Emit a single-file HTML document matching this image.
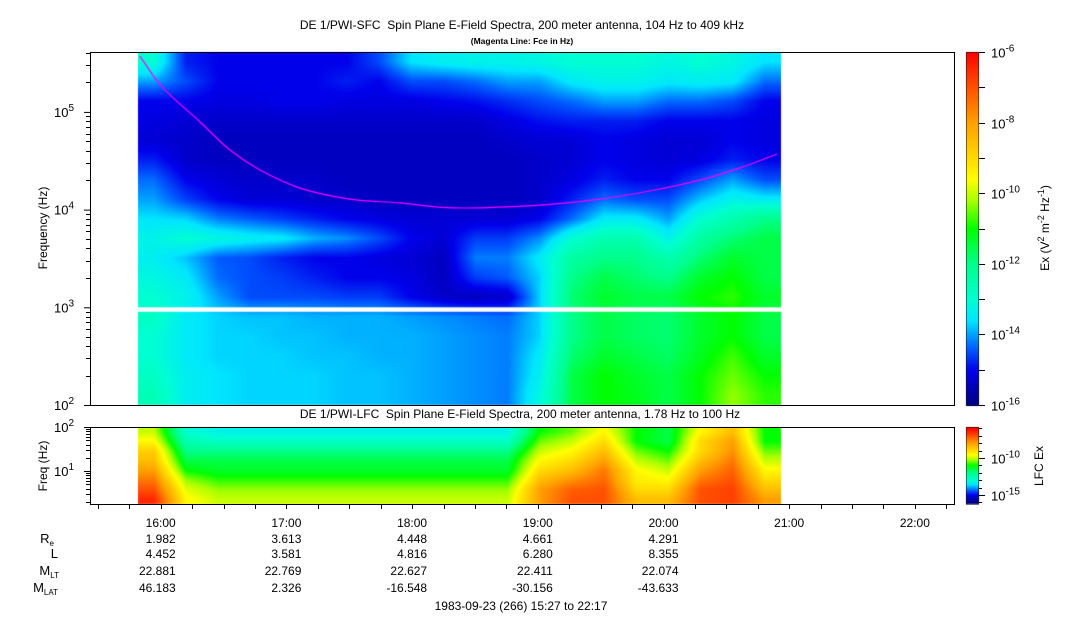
<!DOCTYPE html>
<html><head><meta charset="utf-8">
<style>
html,body{margin:0;padding:0;background:#fff;}
#wrap{position:relative;width:1083px;height:620px;overflow:hidden;font-family:"Liberation Sans",sans-serif;}
canvas{position:absolute;left:0;top:0;}
svg{position:absolute;left:0;top:0;}
</style></head>
<body>
<div id="wrap">
<canvas id="cv" width="1083" height="620"></canvas>
<svg id="sv" width="1083" height="620" font-family="Liberation Sans, sans-serif"></svg>
</div>
<script>
// ---------- DATA ----------
// SFC panel: log10 power, columns in time order, each column bottom(100Hz) -> top(400kHz), 18 rows of 0.2 decade
const sfcCol0=[-12.6,-12.8,-13,-13,-12.8,-13,-13.2,-13.4,-13.3,-13.6,-14,-14.3,-14.8,-15.2,-15.1,-15,-14,-13];
const sfcCol1=[-13.4,-13.4,-13.5,-13.5,-13.5,-13.3,-13.5,-13.8,-13,-13.7,-14.6,-15,-15.3,-15.3,-15.2,-15,-14.5,-14.8];
const sfcCol2=[-13.6,-13.6,-13.7,-13.7,-13.7,-14,-14.3,-14.4,-13.2,-14.2,-15,-15.2,-15.4,-15.4,-15.3,-15.1,-15,-15];
const sfcCol3=[-13.7,-13.7,-13.7,-13.7,-13.8,-14.5,-14.5,-14.5,-13.4,-14.4,-15.2,-15.3,-15.4,-15.4,-15.3,-15.1,-15,-15];
const sfcCol4=[-13.7,-13.7,-13.7,-13.8,-13.8,-14.5,-14.6,-14.8,-13.5,-14.6,-15.2,-15.3,-15.4,-15.4,-15.3,-15,-15,-15];
const sfcCol5=[-13.7,-13.7,-13.8,-13.8,-13.9,-14.5,-14.8,-15,-13.9,-14.8,-15.3,-15.3,-15.4,-15.4,-15.3,-15,-15,-15];
const sfcCol6=[-13.8,-13.8,-13.8,-13.9,-13.9,-14.6,-15,-15,-14.1,-15,-15.3,-15.4,-15.4,-15.4,-15.3,-15.1,-14.8,-15];
const sfcCol7=[-13.8,-13.8,-13.9,-13.9,-13.9,-14.6,-15,-15.1,-14.5,-15.1,-15.4,-15.4,-15.4,-15.4,-15.3,-15.1,-15,-14.5];
const sfcCol8=[-13.9,-13.9,-13.9,-13.9,-14,-15,-15.1,-15.2,-15,-15.2,-15.4,-15.4,-15.4,-15.4,-15.3,-15.1,-14.5,-13.6];
const sfcCol9=[-14,-14,-14,-14,-14.1,-15.3,-15.4,-15.4,-15.2,-15.2,-15.4,-15.4,-15.4,-15.4,-15.3,-15,-14.5,-13.4];
const sfcCol10=[-14.1,-14.1,-14.1,-14.1,-14.2,-15.4,-14.6,-14.2,-14.6,-15.2,-15.4,-15.4,-15.4,-15.4,-15.3,-14.9,-14.3,-13.3];
const sfcCol11=[-14.2,-14.2,-14.2,-14.2,-14.3,-15.3,-14.4,-14.2,-14.6,-15.2,-15.4,-15.4,-15.4,-15.3,-15.1,-14.7,-14,-13.3];
const sfcCol12=[-13.2,-13.4,-13.5,-13.7,-13.7,-13.7,-13.7,-13.5,-14.1,-15,-15.3,-15.3,-15.3,-15.2,-14.9,-14.5,-14,-13.2];
const sfcCol13=[-11.5,-11.5,-11.8,-12,-12,-11.8,-12,-12.3,-13,-14.3,-14.8,-15.1,-15.2,-15.2,-14.8,-14.3,-13.5,-13];
const sfcCol14=[-11,-11,-11.3,-11.5,-11.5,-11.3,-11.5,-12,-12.5,-13.5,-14.3,-14.8,-15,-15,-14.8,-14,-13.3,-13];
const sfcCol15=[-11.2,-11.3,-11.5,-11.7,-11.7,-11.5,-11.8,-12,-12.5,-13.5,-14.5,-15,-15.1,-15.1,-14.8,-14,-13.3,-13];
const sfcCol16=[-11.5,-11.5,-11.7,-11.8,-11.8,-11.5,-12,-12.5,-13.3,-14,-14.5,-15,-15.2,-15.2,-15,-14.3,-13.5,-13.2];
const sfcCol17=[-11,-11,-11.2,-11.3,-11.3,-11,-11.3,-11.8,-12.3,-13,-13.8,-14.5,-15.1,-15.2,-15,-14.3,-13.4,-13];
const sfcCol18=[-10.3,-10.5,-10.7,-11,-11,-10.8,-11,-11.3,-11.8,-12.5,-13.3,-14,-14.8,-15,-15,-14.5,-13.5,-13.2];
const sfcCol19=[-10.8,-11,-11.3,-11.5,-11.5,-11.3,-11.5,-11.5,-11.5,-12,-13.5,-14.5,-15,-15.1,-15.1,-15,-14.3,-13.6];
const sfcGrid=[sfcCol0,sfcCol1,sfcCol2,sfcCol3,sfcCol4,sfcCol5,sfcCol6,sfcCol7,sfcCol8,sfcCol9,sfcCol10,sfcCol11,sfcCol12,sfcCol13,sfcCol14,sfcCol15,sfcCol16,sfcCol17,sfcCol18,sfcCol19];
// LFC panel: columns bottom(1.78Hz)->top(100Hz), 8 rows
const lfcCol0=[-6.5,-7,-7.5,-8,-8.5,-8.8,-9.5,-10];
const lfcCol1=[-9.5,-9.8,-10.3,-11,-11.5,-12,-12.5,-13];
const lfcQuiet=[-10,-10.3,-10.8,-11.3,-11.5,-12,-12.8,-13.3];
const lfcCol12=[-8,-8,-8.5,-9,-9.5,-10,-10.5,-11];
const lfcCol13=[-7,-7.2,-7.8,-8.5,-9,-9.5,-10,-10.5];
const lfcCol14=[-7,-7,-7.3,-7.5,-8,-8.5,-9,-9.5];
const lfcCol15=[-8.5,-9,-9.3,-9.5,-10,-10.5,-11,-11];
const lfcCol16=[-8.5,-9,-9.5,-10,-10.5,-11,-11.5,-11.5];
const lfcCol17=[-7,-7,-7.5,-8,-8.5,-9,-9,-9.5];
const lfcCol18=[-6.8,-6.8,-7,-7.2,-7.5,-7.8,-8,-8.5];
const lfcCol19=[-8,-8.5,-9,-9.5,-10,-10.5,-11,-11];
const lfcGrid=[lfcCol0,lfcCol1,lfcQuiet,lfcQuiet,lfcQuiet,lfcQuiet,lfcQuiet,lfcQuiet,lfcQuiet,lfcQuiet,lfcQuiet,lfcQuiet,lfcCol12,lfcCol13,lfcCol14,lfcCol15,lfcCol16,lfcCol17,lfcCol18,lfcCol19];
// Fce magenta line
const fceTimes=[15.835,16.018,16.313,16.551,16.79,17.108,17.505,17.903,18.341,19.017,19.494,19.892,20.29,20.608,20.902];
const fceHz=[373000,176000,78900,40700,25400,16600,12800,11700,10400,11100,12800,15500,20000,26700,37100];
// Time ticks & ephemeris
const hourTicks=[16,17,18,19,20,21,22];
const tickLabels=["16:00","17:00","18:00","19:00","20:00","21:00","22:00"];
const ephRe=["1.982","3.613","4.448","4.661","4.291"];
const ephL=["4.452","3.581","4.816","6.280","8.355"];
const ephMLT=["22.881","22.769","22.627","22.411","22.074"];
const ephMLAT=["46.183","2.326","-16.548","-30.156","-43.633"];
const dataStart=15.82, dataEnd=20.935, axisStart=15.45, axisEnd=22.283;

// ---------- SCALES ----------
const xOf=h=>160.7+(h-16)*125.7;
const ySfc=lf=>405-(lf-2)*97.7;
const yLfc=lf=>427+(2-lf)*44;
const sfcLogMin=2, sfcLogMax=5.612, lfcLogMin=0.25, lfcLogMax=2;
const stops=[[-16,0,0,128],[-15,0,0,235],[-14.4,0,90,255],[-13.6,0,230,255],[-13,0,255,210],[-12,0,255,140],[-11,0,255,0],[-10.2,170,255,0],[-9.6,255,255,0],[-8,255,160,0],[-7,255,80,0],[-6,255,0,0]];
function cmap(v){
  if(v<=stops[0][0])return stops[0].slice(1);
  for(let i=1;i<stops.length;i++){ if(v<=stops[i][0]){const a=stops[i-1],b=stops[i],t=(v-a[0])/(b[0]-a[0]);return [a[1]+(b[1]-a[1])*t,a[2]+(b[2]-a[2])*t,a[3]+(b[3]-a[3])*t];}}
  return stops[stops.length-1].slice(1);
}
function sample(grid,u,w){
  const nc=grid.length,nr=grid[0].length;
  u=Math.max(0,Math.min(nc-1,u)); w=Math.max(0,Math.min(nr-1,w));
  const c0=Math.floor(u),c1=Math.min(nc-1,c0+1),r0=Math.floor(w),r1=Math.min(nr-1,r0+1);
  const fu=u-c0,fw=w-r0;
  return (grid[c0][r0]*(1-fu)+grid[c1][r0]*fu)*(1-fw)+(grid[c0][r1]*(1-fu)+grid[c1][r1]*fu)*fw;
}
const cv=document.getElementById('cv'),ctx=cv.getContext('2d');
function drawHeat(grid,yTop,yBot,lmin,lmax,lOfY){
  const x0=Math.round(xOf(dataStart)),x1=Math.round(xOf(dataEnd));
  const W=x1-x0,H=yBot-yTop,img=ctx.createImageData(W,H);
  const nc=grid.length,nr=grid[0].length;
  for(let j=0;j<H;j++){
    const lf=lOfY(yTop+j+0.5);
    const w=(lf-lmin)/(lmax-lmin)*nr-0.5;
    for(let i=0;i<W;i++){
      const u=(i+0.5)/W*nc-0.5;
      const c=cmap(sample(grid,u,w));
      const k=(j*W+i)*4;img.data[k]=c[0];img.data[k+1]=c[1];img.data[k+2]=c[2];img.data[k+3]=255;
    }
  }
  ctx.putImageData(img,x0,yTop);
}
drawHeat(sfcGrid,52,405,sfcLogMin,sfcLogMax,y=>2+(405-y)/97.7);
drawHeat(lfcGrid,427,504,lfcLogMin,lfcLogMax,y=>2-(y-427)/44);
ctx.fillStyle='#fff';
ctx.fillRect(xOf(dataStart)-1,ySfc(3),xOf(dataEnd)-xOf(dataStart)+2,ySfc(Math.log10(900))-ySfc(3));
// fce line (Catmull-Rom through data points)
const fp=fceTimes.map((t,i)=>[xOf(t),ySfc(Math.log10(fceHz[i]))]);
ctx.strokeStyle='#ff00ff';ctx.lineWidth=1.2;ctx.beginPath();ctx.moveTo(fp[0][0],fp[0][1]);
for(let i=0;i<fp.length-1;i++){
  const p0=fp[Math.max(0,i-1)],p1=fp[i],p2=fp[i+1],p3=fp[Math.min(fp.length-1,i+2)];
  ctx.bezierCurveTo(p1[0]+(p2[0]-p0[0])/6,p1[1]+(p2[1]-p0[1])/6,p2[0]-(p3[0]-p1[0])/6,p2[1]-(p3[1]-p1[1])/6,p2[0],p2[1]);
}
ctx.stroke();
function cbar(y0,y1,vTop,vBot){for(let y=y0;y<y1;y++){const v=vTop+(vBot-vTop)*(y-y0+0.5)/(y1-y0);const c=cmap(v);ctx.fillStyle=`rgb(${c[0]|0},${c[1]|0},${c[2]|0})`;ctx.fillRect(966,y,13,1);}}
cbar(52,406,-6,-16);
cbar(427,504,-5.8,-16.2);

// ---------- SVG AXES ----------
const sv=document.getElementById('sv');const NS='http://www.w3.org/2000/svg';
function el(tag,attrs,parent){const e=document.createElementNS(NS,tag);for(const k in attrs)e.setAttribute(k,attrs[k]);(parent||sv).appendChild(e);return e;}
function line(x1,y1,x2,y2,name){const e=el('line',{x1,y1,x2,y2,stroke:'#000','stroke-width':1});return e;}
function text(x,y,s,size,anchor,name,extra){const e=el('text',Object.assign({x,y,'font-size':size,'text-anchor':anchor||'start',fill:'#000'},extra||{}));e.innerHTML=s;return e;}
let f=el('rect',{x:90.5,y:52.5,width:864,height:353,fill:'none',stroke:'#000'});

f=el('rect',{x:90.5,y:427.5,width:864,height:77,fill:'none',stroke:'#000'});

text(522,29,'DE 1/PWI-SFC&#160; Spin Plane E-Field Spectra, 200 meter antenna, 104 Hz to 409 kHz',12,'middle','sfc-title');
text(522,44,'(Magenta Line: Fce in Hz)',8.5,'middle','fce-subtitle',{'font-weight':'bold'});
text(520,418,'DE 1/PWI-LFC&#160; Spin Plane E-Field Spectra, 200 meter antenna, 1.78 Hz to 100 Hz',12,'middle','lfc-title');
for(let d=2;d<=5;d++){
  line(84,ySfc(d)+0.5,90,ySfc(d)+0.5,'sfc-major-tick');
  text(74,ySfc(d)+5,'10<tspan font-size="10" dy="-6">'+d+'</tspan>',13,'end','sfc-tick-label');
  for(let m=2;m<=9;m++){const lf=d+Math.log10(m);if(lf>sfcLogMax)break;line(86,Math.round(ySfc(lf))+0.5,90,Math.round(ySfc(lf))+0.5,'sfc-minor-tick');}
}
text(0,0,'Frequency (Hz)',12,'middle','sfc-y-axis-title',{transform:'translate(47,228) rotate(-90)'});
for(let d=1;d<=2;d++){line(84,yLfc(d)+0.5,90,yLfc(d)+0.5,'lfc-major-tick');
  text(74,yLfc(d)+5,'10<tspan font-size="10" dy="-6">'+d+'</tspan>',13,'end','lfc-tick-label');}
for(let d=0;d<=1;d++)for(let m=2;m<=9;m++){const lf=d+Math.log10(m);if(lf<lfcLogMin)continue;line(86,Math.round(yLfc(lf))+0.5,90,Math.round(yLfc(lf))+0.5,'lfc-minor-tick');}
text(0,0,'Freq (Hz)',12,'middle','lfc-y-axis-title',{transform:'translate(47,466) rotate(-90)'});
for(let q=Math.ceil(axisStart*4);q<=axisEnd*4;q++){const x=Math.round(xOf(q/4))+0.5;line(x,504,x,509,'time-tick');}
hourTicks.forEach((h,i)=>{text(xOf(h),527,tickLabels[i],12,'middle','time-tick-label');});
const rows=[[ephRe,543,'R<tspan font-size="8" dy="3">e</tspan>','ephem-re',54],[ephL,558,'L','ephem-l',58],[ephMLT,575,'M<tspan font-size="8" dy="3">LT</tspan>','ephem-mlt',59],[ephMLAT,592,'M<tspan font-size="8" dy="3">LAT</tspan>','ephem-mlat',58]];
rows.forEach(r=>{text(r[4],r[1],r[2],13,'end',r[3]+'-label');
  r[0].forEach((v,i)=>text(xOf(hourTicks[i])+15,r[1],v,12,'end',r[3]+'-value'));});
text(521,610,'1983-09-23 (266) 15:27 to 22:17',12,'middle','date-range-label');
f=el('rect',{x:966.5,y:52.5,width:12,height:353,fill:'none',stroke:'#000','stroke-width':0.5});

for(let e=-16;e<=-6;e++){const y=Math.round(52+(-6-e)*35.3)+0.5;line(979,y,985,y,'colorbar-tick');
  if(e%2===0)text(991,y+5,'10<tspan font-size="10" dy="-6">'+e+'</tspan>',13,'start','colorbar-tick-label');}
text(0,0,'Ex (V<tspan font-size="9" dy="-5">2</tspan><tspan dy="5"> m</tspan><tspan font-size="9" dy="-5">-2</tspan><tspan dy="5"> Hz</tspan><tspan font-size="9" dy="-5">-1</tspan><tspan dy="5">)</tspan>',12,'middle','sfc-colorbar-title',{transform:'translate(1049,228) rotate(-90)'});
f=el('rect',{x:966.5,y:427.5,width:12,height:77,fill:'none',stroke:'#000','stroke-width':0.5});

for(let e=-16;e<=-6;e++){const y=Math.round(427+(-5.8-e)*7.4)+0.5;line(979,y,e%5===0?985:982,y,'lfc-colorbar-tick');
  if(e%5===0)text(991,y+5,'10<tspan font-size="10" dy="-6">'+e+'</tspan>',13,'start','lfc-colorbar-tick-label');}
text(0,0,'LFC Ex',12,'middle','lfc-colorbar-title',{transform:'translate(1043,466) rotate(-90)'});
</script>
</body></html>
